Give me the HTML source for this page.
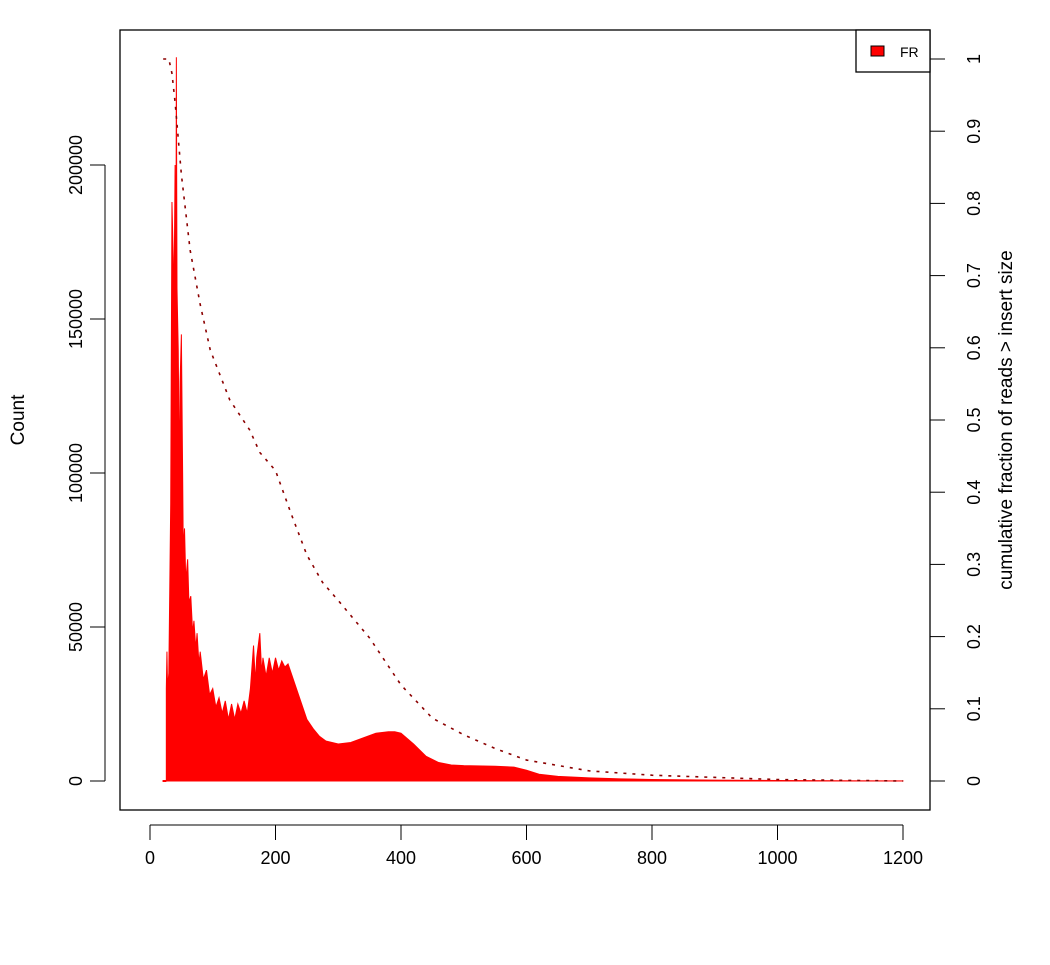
<!DOCTYPE html>
<html><head><meta charset="utf-8"><style>
body{margin:0;background:#fff}
svg text{font-family:"Liberation Sans",Arial,sans-serif;fill:#000}
</style></head><body>
<svg id="chart" width="1050" height="960" xmlns="http://www.w3.org/2000/svg">
<rect width="1050" height="960" fill="#fff"/>
<g id="plot"></g>
</svg>
<script>
const sizes=[26,27,28,30,33,35,37,38,40,41,42,43,45,47,48,50,52,53,55,57,60,62,65,68,70,73,75,78,80,85,90,95,100,105,110,115,120,125,130,135,140,145,150,155,160,165,168,170,175,178,180,185,190,195,200,205,210,215,220,225,230,240,250,260,270,280,290,300,320,340,360,380,390,400,420,440,460,480,500,550,580,600,620,650,700,750,800,900,1000,1100,1200];
const counts=[30000,42000,30000,35000,90000,188000,170000,150000,200000,120000,235000,160000,140000,95000,130000,145000,100000,75000,82000,65000,72000,58000,60000,48000,52000,43000,48000,38000,42000,33000,36000,28000,30000,24000,27000,22000,26000,20000,25000,20000,25000,22000,26000,22000,30000,44000,32000,40000,48000,35000,40000,34000,40000,35000,40000,36000,39000,37000,38000,35000,32000,26000,20000,17000,14500,13000,12500,12000,12500,14000,15500,16000,16000,15500,12000,8000,6000,5200,5000,4800,4500,3500,2200,1500,1000,700,500,300,150,80,50];
const cumSizes=[21,30,35,40,50,64,80,96,127,159,175,200,225,250,275,300,350,400,450,500,550,600,700,800,1000,1200];
const cumFrac=[1,1,0.98,0.94,0.84,0.735,0.66,0.597,0.528,0.486,0.455,0.43,0.37,0.313,0.275,0.25,0.198,0.133,0.087,0.064,0.045,0.029,0.014,0.008,0.002,0];
const xTicks=[0,200,400,600,800,1000,1200];
const yTicks=[0,50000,100000,150000,200000];
const rTicks=[0,0.1,0.2,0.3,0.4,0.5,0.6,0.7,0.8,0.9,1];
const X=v=>150+v*0.6275, Y=c=>781-c*0.00308, R=f=>781-f*722;
const NS="http://www.w3.org/2000/svg", g=document.getElementById('plot');
function mk(t,a,p){const e=document.createElementNS(NS,t);for(const k in a)e.setAttribute(k,a[k]);(p||g).appendChild(e);return e;}
// histogram area
let d='M'+X(sizes[0])+','+Y(0);
sizes.forEach((s,i)=>{d+=' L'+X(s)+','+Y(counts[i]);});
d+=' L'+X(sizes[sizes.length-1])+','+Y(0)+' Z';
const area=mk('path',{d:d,fill:'#ff0000',stroke:'#ff0000','stroke-width':1});


mk('line',{x1:X(20),y1:Y(0),x2:X(26),y2:Y(0),stroke:'#ff0000','stroke-width':2});
// cumulative
const cl=mk('polyline',{points:cumSizes.map((s,i)=>X(s)+','+R(cumFrac[i])).join(' '),fill:'none',stroke:'#8b0000','stroke-width':1.6,'stroke-dasharray':'3,6'});


// box
const box=mk('rect',{x:120,y:30,width:810,height:780,fill:'none',stroke:'#000','stroke-width':1.3});


// x axis
mk('line',{x1:X(0),y1:825,x2:X(1200),y2:825,stroke:'#000'});
xTicks.forEach(v=>{mk('line',{x1:X(v),y1:825,x2:X(v),y2:840,stroke:'#000'});
const t=mk('text',{x:X(v),y:864,'font-size':18,'text-anchor':'middle'});t.textContent=v;

});
// left axis
mk('line',{x1:105,y1:Y(0),x2:105,y2:Y(200000),stroke:'#000'});
yTicks.forEach(v=>{mk('line',{x1:90,y1:Y(v),x2:105,y2:Y(v),stroke:'#000'});
const t=mk('text',{x:82,y:Y(v),'font-size':18,'text-anchor':'middle',transform:'rotate(-90 82 '+Y(v)+')'});t.textContent=v;

});
// right axis
mk('line',{x1:930,y1:R(0),x2:930,y2:R(1),stroke:'#000'});
rTicks.forEach(v=>{mk('line',{x1:930,y1:R(v),x2:945,y2:R(v),stroke:'#000'});
const t=mk('text',{x:980,y:R(v),'font-size':18,'text-anchor':'middle',transform:'rotate(-90 980 '+R(v)+')'});t.textContent=v;

});
</script>
<text x="525" y="922" font-size="19" text-anchor="middle" font-family="Liberation Sans">Insert Size</text>
<svg style="position:absolute;left:0;top:0" width="1050" height="960">
<text x="24" y="420" font-size="19" text-anchor="middle" transform="rotate(-90 24 420)" font-family="Liberation Sans">Count</text>
<text x="1012" y="420" font-size="19" text-anchor="middle" transform="rotate(-90 1012 420)" font-family="Liberation Sans">cumulative fraction of reads &gt; insert size</text>
<g>
<rect x="856" y="30" width="74" height="42" fill="#fff" stroke="#000" stroke-width="1.3"/>
<rect x="871" y="46" width="13" height="10" fill="#ff0000" stroke="#000"/>
<text x="900" y="57" font-size="14" font-family="Liberation Sans">FR</text>
</g>
</svg>
<script>
// move stray text into main svg layout
const s=document.getElementById('chart');const tt=document.querySelector('body>text');if(tt)s.appendChild(tt);
</script>
</body></html>
